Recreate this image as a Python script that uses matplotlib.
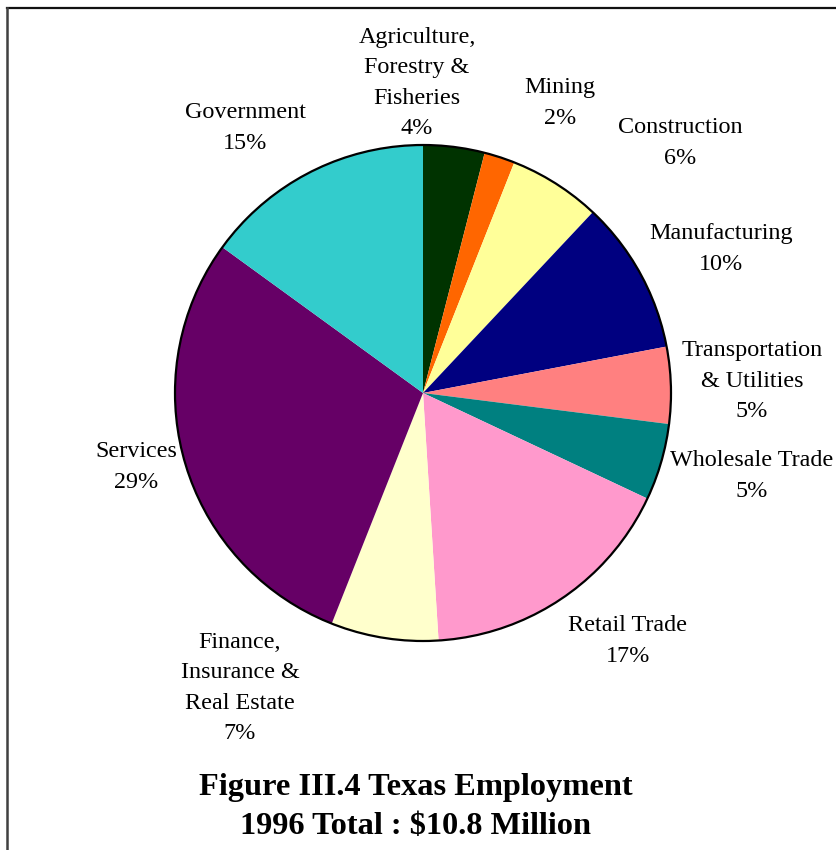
import matplotlib
matplotlib.use("Agg")
import matplotlib.pyplot as plt
from matplotlib.patches import Circle
from matplotlib.lines import Line2D

# Texas employment shares by industry, 1996 (percent)
sectors = [
    "Agriculture,\nForestry &\nFisheries",
    "Mining",
    "Construction",
    "Manufacturing",
    "Transportation\n& Utilities",
    "Wholesale Trade",
    "Retail Trade",
    "Finance,\nInsurance &\nReal Estate",
    "Services",
    "Government",
]
shares = [4, 2, 6, 10, 5, 5, 17, 7, 29, 15]
colors = ["#003300", "#FF6600", "#FFFF99", "#000080", "#FF8080",
          "#008080", "#FF99CC", "#FFFFCC", "#660066", "#33CCCC"]

# label anchor points in figure pixels (x from left, y from top)
label_xy = [(417, 83), (560, 103), (680, 143), (721, 249), (752, 381),
            (752, 476), (628, 641), (240, 688), (136, 467), (245, 128)]

W, H = 836, 850
fig = plt.figure(figsize=(W / 100, H / 100), dpi=100)
ax = fig.add_axes([0, 0, 1, 1])

cx, cy, r = 423, 393, 248
ax.pie(shares, colors=colors, startangle=90, counterclock=False,
       center=(cx, H - cy), radius=r,
       wedgeprops=dict(linewidth=0, antialiased=True))
ax.add_patch(Circle((cx, H - cy), r, fill=False, edgecolor="black",
                    linewidth=1.6, zorder=5))

serif = ["Liberation Serif", "DejaVu Serif"]
for name, val, (lx, ly) in zip(sectors, shares, label_xy):
    ax.text(lx, H - ly, f"{name}\n{val}%", ha="center", va="center",
            multialignment="center", fontsize=17.4, family=serif,
            linespacing=1.6, color="black")

ax.text(416, H - 807, "Figure III.4 Texas Employment\n1996 Total : $10.8 Million",
        ha="center", va="center", multialignment="center", fontsize=23.3,
        fontweight="bold", family=serif, linespacing=1.5)

# page frame (top and left edges)
ax.add_line(Line2D([6.5, W], [H - 7.5, H - 7.5], color="#111111", linewidth=1.6))
ax.add_line(Line2D([6.5, 6.5], [0, H - 7.5], color="#404040", linewidth=1.8))

ax.set_xlim(0, W)
ax.set_ylim(0, H)
ax.set_aspect("equal")
ax.axis("off")

fig.savefig("out.png", dpi=100, facecolor="white")
